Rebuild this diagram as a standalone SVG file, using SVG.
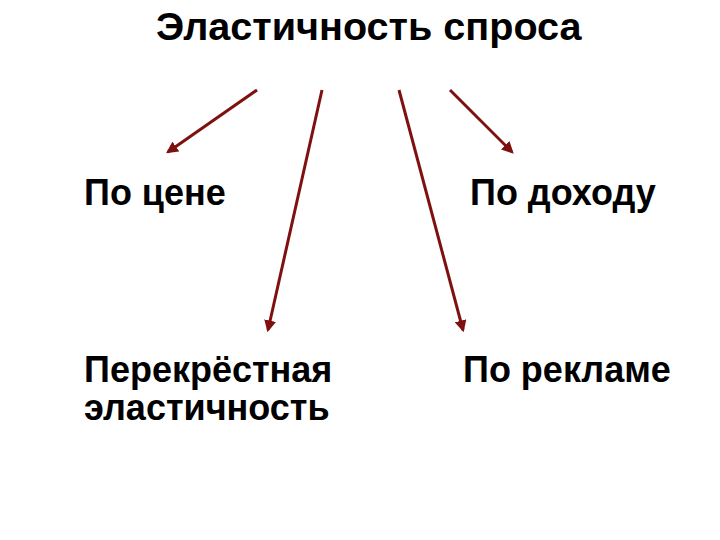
<svg xmlns="http://www.w3.org/2000/svg" width="720" height="540" viewBox="0 0 720 540">
<defs>
<style>
text{font-family:"Liberation Sans",Arial,sans-serif;font-weight:bold;fill:#000;}
.t{font-size:39.6px;}
.n{font-size:36px;}
.c line{stroke:#7f1010;stroke-width:3;marker-end:url(#ah);}
</style>
<marker id="ah" viewBox="0 0 10 10" refX="8" refY="5" markerWidth="4" markerHeight="4" orient="auto" markerUnits="strokeWidth">
<path d="M0,0 L10,5 L0,10 z" fill="#7f1010"/>
</marker>
</defs>
<rect width="720" height="540" fill="#fff"/>
<g id="title"><text class="t" x="156" y="40">Эластичность спроса</text></g>
<g id="price"><text class="n" x="84" y="205">По цене</text></g>
<g id="income"><text class="n" x="470" y="205">По доходу</text></g>
<g id="cross"><text class="n" x="84" y="382">Перекрёстная</text><text class="n" x="84" y="420">эластичность</text></g>
<g id="ads"><text class="n" x="463" y="382">По рекламе</text></g>
<g class="c" id="connectors">
<line x1="257" y1="90" x2="168" y2="152"/>
<line x1="322" y1="90" x2="268" y2="330"/>
<line x1="399" y1="90" x2="463" y2="330"/>
<line x1="450" y1="90" x2="512" y2="152"/>
</g>
</svg>
